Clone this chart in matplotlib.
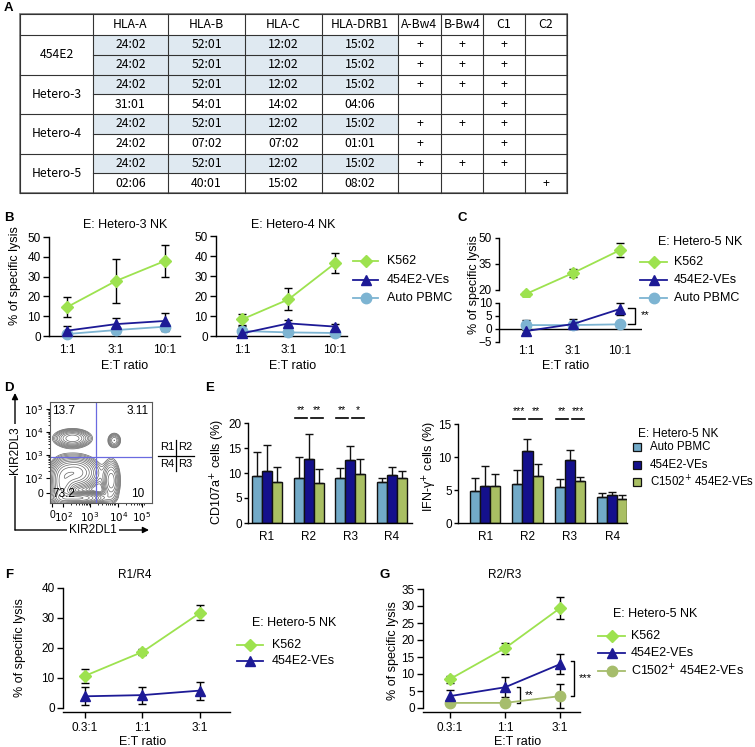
import numpy as np
import matplotlib
matplotlib.use('Agg')
import matplotlib.pyplot as plt
from matplotlib.patches import Rectangle

plt.rcParams['font.family'] = ['Liberation Sans', 'DejaVu Sans']
plt.rcParams['font.size'] = 8.5
plt.rcParams['axes.linewidth'] = 1.0

# ---------------- data ----------------
# A: HLA typing table
donors = ['454E2', 'Hetero-3', 'Hetero-4', 'Hetero-5']
table_cols = ['HLA-A', 'HLA-B', 'HLA-C', 'HLA-DRB1', 'A-Bw4', 'B-Bw4', 'C1', 'C2']
hla_a = ['24:02', '24:02', '24:02', '31:01', '24:02', '24:02', '24:02', '02:06']
hla_b = ['52:01', '52:01', '52:01', '54:01', '52:01', '07:02', '52:01', '40:01']
hla_c = ['12:02', '12:02', '12:02', '14:02', '12:02', '07:02', '12:02', '15:02']
hla_drb1 = ['15:02', '15:02', '15:02', '04:06', '15:02', '01:01', '15:02', '08:02']
a_bw4 = ['+', '+', '+', '', '+', '+', '+', '']
b_bw4 = ['+', '+', '+', '', '+', '', '+', '']
c1 = ['+', '+', '+', '+', '+', '+', '+', '']
c2 = ['', '', '', '', '', '', '', '+']
shared_allele = [True, True, True, False, True, False, True, False]

# B/C: specific lysis vs E:T ratio
et_ratio = ['1:1', '3:1', '10:1']
k562_h3 = [14.6, 27.8, 37.9]
k562_h3_err = [5.0, 11.0, 8.0]
ves_h3 = [2.7, 6.0, 7.6]
ves_h3_err = [2.2, 3.0, 3.8]
auto_h3 = [1.0, 3.0, 4.7]
auto_h3_err = [0.8, 1.5, 2.0]

k562_h4 = [8.3, 18.3, 36.3]
k562_h4_err = [2.8, 5.5, 5.0]
ves_h4 = [1.3, 6.3, 4.7]
ves_h4_err = [0.8, 1.8, 1.5]
auto_h4 = [2.5, 1.8, 1.5]
auto_h4_err = [2.5, 0.8, 0.6]

k562_h5 = [17.7, 29.8, 43.0]
k562_h5_err = [1.0, 2.5, 4.0]
ves_h5 = [-0.8, 1.9, 7.7]
ves_h5_err = [0.8, 2.0, 2.3]
auto_h5 = [1.5, 1.5, 1.8]
auto_h5_err = [2.0, 0.8, 0.6]

# D: flow populations (centre x, centre y, spread x, spread y, weight) in plot fraction
blob_x = [0.22, 0.63, 0.25, 0.12, 0.28, 0.60]
blob_y = [0.64, 0.62, 0.30, 0.16, 0.05, 0.22]
blob_sx = [0.09, 0.035, 0.11, 0.06, 0.13, 0.045]
blob_sy = [0.045, 0.04, 0.08, 0.12, 0.03, 0.11]
blob_w = [0.55, 0.25, 0.9, 0.7, 1.0, 0.4]
quad_pct = ['13.7', '3.11', '73.2', '10']

# E: degranulation / IFN-g
regions = ['R1', 'R2', 'R3', 'R4']
cd107_auto = [9.4, 9.0, 9.0, 8.2]
cd107_auto_err = [4.8, 4.2, 2.0, 0.8]
cd107_ves = [10.4, 12.8, 12.6, 9.6]
cd107_ves_err = [5.2, 5.0, 2.8, 1.6]
cd107_c1502 = [8.2, 8.0, 9.8, 9.0]
cd107_c1502_err = [3.0, 2.8, 3.0, 1.4]
cd107_sig = [(1, 0, '**'), (1, 1, '**'), (2, 0, '**'), (2, 1, '*')]

ifn_auto = [4.9, 5.9, 5.5, 4.0]
ifn_auto_err = [1.9, 2.1, 1.1, 0.5]
ifn_ves = [5.6, 10.9, 9.5, 4.3]
ifn_ves_err = [3.0, 1.9, 1.5, 0.4]
ifn_c1502 = [5.6, 7.1, 6.3, 3.6]
ifn_c1502_err = [1.9, 1.8, 0.6, 0.6]
ifn_sig = [(1, 0, '***'), (1, 1, '**'), (2, 0, '**'), (2, 1, '***')]

# F/G: sorted NK subsets
et_ratio2 = ['0.3:1', '1:1', '3:1']
k562_r14 = [10.7, 18.7, 31.7]
k562_r14_err = [2.3, 1.0, 2.5]
ves_r14 = [3.9, 4.3, 5.8]
ves_r14_err = [3.0, 2.8, 3.0]

k562_r23 = [8.5, 17.6, 29.4]
k562_r23_err = [1.0, 1.6, 3.2]
ves_r23 = [3.5, 6.1, 12.9]
ves_r23_err = [1.8, 3.0, 2.9]
c1502_r23 = [1.5, 1.5, 3.5]
c1502_r23_err = [0.4, 0.4, 3.5]

# styles
K562 = ('D', '#9de24f', 6)
VES = ('^', '#1d1a96', 7)
AUTO = ('o', '#7db4d2', 7.5)
C1502 = ('o', '#a6bd6c', 7.5)
bar_colors = ['#72aac8', '#14108c', '#a9bf63']

# ---------------- figure ----------------
W, H = 755, 747
fig = plt.figure(figsize=(W / 100, H / 100), dpi=100)


def box(x0, y0, x1, y1):
    return [x0 / W, 1 - y1 / H, (x1 - x0) / W, (y1 - y0) / H]


ov = fig.add_axes([0, 0, 1, 1])
ov.set_xlim(0, W)
ov.set_ylim(H, 0)
ov.axis('off')


def letter(x, y, s):
    ov.text(x, y, s, fontsize=9.5, fontweight='bold', ha='left', va='center')


def prism(ax, labels, xlim, ylim, yticks, xlen=0, xpad=6, ylen=4, ypad=2):
    ax.spines[['top', 'right']].set_visible(False)
    ax.set_xlim(xlim)
    ax.set_ylim(ylim)
    ax.set_yticks(yticks)
    ax.set_xticks(range(len(labels)), labels)
    ax.tick_params(axis='y', length=ylen, width=1, pad=ypad)
    ax.tick_params(axis='x', length=xlen, width=1, pad=xpad)
    ax.patch.set_alpha(0)


def series(ax, y, err, style, clip=False):
    m, c, ms = style
    x = np.arange(len(y))
    ax.errorbar(x, y, yerr=err, fmt='none', ecolor='k', elinewidth=1,
                capsize=3, capthick=1, zorder=3, clip_on=clip)
    ax.plot(x, y, color=c, marker=m, ms=ms, lw=1.3, mec=c, zorder=4, clip_on=clip)


def legend_rows(x0, x1, xt, ys, styles, labels, fs=9):
    for y, (m, c, ms), lab in zip(ys, styles, labels):
        ov.plot([x0, x1], [y, y], color=c, lw=1.3)
        ov.plot([(x0 + x1) / 2], [y], marker=m, color=c, ms=ms)
        ov.text(xt, y, lab, va='center', ha='left', fontsize=fs)


# ---- A: table ----
letter(4, 8, 'A')
col_edges = [20, 93, 168, 245, 322, 398, 441, 483, 525, 567]
row_edges = [14] + [35 + 19.75 * i for i in range(9)]
cell_cols = [hla_a, hla_b, hla_c, hla_drb1, a_bw4, b_bw4, c1, c2]
tfont = dict(family=['Noto Sans CJK JP', 'DejaVu Sans'], fontsize=8.8, ha='center', va='center')
for r in range(8):
    y0, y1 = row_edges[r + 1], row_edges[r + 2]
    for c, vals in enumerate(cell_cols):
        x0, x1 = col_edges[c + 1], col_edges[c + 2]
        if c < 4 and shared_allele[r]:
            ov.add_patch(Rectangle((x0, y0), x1 - x0, y1 - y0, fc='#dfe9f1', ec='none'))
        ov.text((x0 + x1) / 2, (y0 + y1) / 2, vals[r], **tfont)
for c, name in enumerate(table_cols):
    ov.text((col_edges[c + 1] + col_edges[c + 2]) / 2, (row_edges[0] + row_edges[1]) / 2, name, **tfont)
for i, d in enumerate(donors):
    ov.text((col_edges[0] + col_edges[1]) / 2, row_edges[1 + 2 * i] + 19.75, d, **tfont)
for i, y in enumerate(row_edges):
    xs = col_edges[0] if (i <= 1 or (i - 1) % 2 == 0) else col_edges[1]
    ov.plot([xs, col_edges[-1]], [y, y], color='#333333', lw=0.8)
for x in col_edges:
    ov.plot([x, x], [row_edges[0], row_edges[-1]], color='#333333', lw=0.8)
ov.add_patch(Rectangle((col_edges[0], row_edges[0]), col_edges[-1] - col_edges[0],
                       row_edges[-1] - row_edges[0], fc='none', ec='#808080', lw=1.3))

# ---- B ----
letter(4, 218, 'B')
axb1 = fig.add_axes(box(49, 237, 180, 336))
prism(axb1, et_ratio, (-0.37, 2.31), (0, 50), range(0, 51, 10))
series(axb1, auto_h3, auto_h3_err, AUTO)
series(axb1, ves_h3, ves_h3_err, VES)
series(axb1, k562_h3, k562_h3_err, K562)
axb2 = fig.add_axes(box(216, 236, 347, 336))
prism(axb2, et_ratio, (-0.56, 2.26), (0, 50), range(0, 51, 10))
series(axb2, auto_h4, auto_h4_err, AUTO)
series(axb2, ves_h4, ves_h4_err, VES)
series(axb2, k562_h4, k562_h4_err, K562)
ov.text(125, 225, 'E: Hetero-3 NK', ha='center', va='center', fontsize=9)
ov.text(293, 225, 'E: Hetero-4 NK', ha='center', va='center', fontsize=9)
ov.text(15, 276, '% of specific lysis', rotation=90, ha='center', va='center', fontsize=9)
ov.text(125, 366, 'E:T ratio', ha='center', va='center', fontsize=9)
ov.text(293, 366, 'E:T ratio', ha='center', va='center', fontsize=9)
legend_rows(353, 378, 387, [261, 280, 298], [K562, VES, AUTO], ['K562', '454E2-VEs', 'Auto PBMC'])

# ---- C (broken y axis) ----
letter(458, 218, 'C')
cxlim = (-0.574, 2.468)
axc_up = fig.add_axes(box(499, 236, 642, 297))
prism(axc_up, [], cxlim, (15.96, 51.15), [20, 35, 50], ylen=3)
axc_up.spines['bottom'].set_visible(False)
axc_up.spines['left'].set_bounds(20, 50)
axc_lo = fig.add_axes(box(499, 300, 642, 344))
prism(axc_lo, et_ratio, cxlim, (-5.77, 11.15), [-5, 0, 5, 10], xpad=1, ylen=3)
axc_lo.spines['bottom'].set_visible(False)
axc_lo.spines['left'].set_bounds(-5, 10)
axc_lo.axhline(0, color='k', lw=1, zorder=2)
for a in (axc_up, axc_lo):
    series(a, auto_h5, auto_h5_err, AUTO, clip=True)
    series(a, ves_h5, ves_h5_err, VES, clip=True)
    series(a, k562_h5, k562_h5_err, K562, clip=True)
axc_lo.plot([2.17, 2.32, 2.32, 2.17], [8.1, 8.1, 1.9, 1.9], color='k', lw=1, clip_on=False)
axc_lo.text(2.44, 5.5, '**', ha='left', va='center', fontsize=8)
ov.text(474, 285, '% of specific lysis', rotation=90, ha='center', va='center', fontsize=9)
ov.text(566, 366, 'E:T ratio', ha='center', va='center', fontsize=9)
ov.text(658, 242, 'E: Hetero-5 NK', ha='left', va='center', fontsize=9)
legend_rows(640, 667, 674, [262, 280, 298], [K562, VES, AUTO], ['K562', '454E2-VEs', 'Auto PBMC'])

# ---- D: flow contour ----
letter(4, 388, 'D')
axd = fig.add_axes(box(50, 402, 152, 503))
gx, gy = np.meshgrid(np.linspace(0, 1, 300), np.linspace(0, 1, 300))
dens = np.zeros_like(gx)
for bx, by, sx, sy, w in zip(blob_x, blob_y, blob_sx, blob_sy, blob_w):
    dens += w * np.exp(-0.5 * ((gx - bx) / sx) ** 2 - 0.5 * ((gy - by) / sy) ** 2)
axd.contour(gx, gy, dens, levels=np.geomspace(0.05, 0.95, 12), colors='0.4', linewidths=0.5)
axd.axvline(0.45, color='#6a6ae0', lw=0.9)
axd.axhline(0.455, color='#6a6ae0', lw=0.9)
axd.set_xlim(0, 1)
axd.set_ylim(0, 1)
for s in axd.spines.values():
    s.set_color('0.35')
    s.set_linewidth(0.8)
axd.set_xticks([0.02, 0.13, 0.39, 0.67, 0.9], ['0', '$10^2$', '$10^3$', '$10^4$', '$10^5$'])
axd.set_yticks([0.1, 0.247, 0.475, 0.70, 0.93], ['0', '$10^2$', '$10^3$', '$10^4$', '$10^5$'])
decade_x = [0.13, 0.39, 0.67]
decade_y = [0.247, 0.475, 0.70]
mx = [d + 0.26 * np.log10(k) for d in decade_x for k in range(2, 10)]
my = [d + 0.227 * np.log10(k) for d in decade_y for k in range(2, 10)]
axd.set_xticks(mx, minor=True)
axd.set_yticks(my, minor=True)
axd.tick_params(which='major', length=3, width=0.8, labelsize=7.5, pad=2)
axd.tick_params(which='minor', length=1.5, width=0.6)
axd.text(0.02, 0.97, quad_pct[0], transform=axd.transAxes, ha='left', va='top', fontsize=8.5)
axd.text(0.97, 0.97, quad_pct[1], transform=axd.transAxes, ha='right', va='top', fontsize=8.5)
axd.text(0.02, 0.03, quad_pct[2], transform=axd.transAxes, ha='left', va='bottom', fontsize=8.5)
axd.text(0.92, 0.03, quad_pct[3], transform=axd.transAxes, ha='right', va='bottom', fontsize=8.5)
ov.annotate('', xy=(15, 393), xytext=(15, 530),
            arrowprops=dict(arrowstyle='-|>', lw=1, color='k', shrinkA=0, shrinkB=0, mutation_scale=9))
ov.annotate('', xy=(149, 530), xytext=(15, 530),
            arrowprops=dict(arrowstyle='-|>', lw=1, color='k', shrinkA=0, shrinkB=0, mutation_scale=9))
ov.text(15, 450, 'KIR2DL3', rotation=90, ha='center', va='center', fontsize=8.5,
        bbox=dict(fc='white', ec='none', pad=1.5))
ov.text(93, 530, 'KIR2DL1', ha='center', va='center', fontsize=8.5,
        bbox=dict(fc='white', ec='none', pad=1.5))
for (tx, ty, s) in [(167, 447, 'R1'), (185, 447, 'R2'), (167, 464, 'R4'), (185, 464, 'R3')]:
    ov.text(tx, ty, s, ha='center', va='center', fontsize=8)
ov.plot([176, 176], [440, 471], color='k', lw=0.9)
ov.plot([158, 194], [456, 456], color='k', lw=0.9)

# ---- E: bars ----
letter(205, 388, 'E')
bw = 0.24


def bar_panel(ax, vals, errs, sig, line_y, text_y):
    pos = np.arange(len(regions))
    for k, (v, e, col) in enumerate(zip(vals, errs, bar_colors)):
        ax.bar(pos + (k - 1) * bw, v, bw, color=col, edgecolor='#111111', lw=1,
               yerr=[np.zeros(len(e)), e], capsize=3,
               error_kw=dict(elinewidth=1, capthick=1, ecolor='#111111'), zorder=2)
    for g, side, stars in sig:
        xa = g - 1.4 * bw if side == 0 else g + 0.2 * bw
        ax.plot([xa, xa + 1.2 * bw], [line_y, line_y], color='k', lw=1.2, clip_on=False)
        ax.text(xa + 0.6 * bw, text_y, stars, ha='center', va='center', fontsize=7.5)


axe1 = fig.add_axes(box(248, 423, 412, 523))
prism(axe1, regions, (-0.456, 3.48), (0, 20), range(0, 21, 5), ylen=3, ypad=1.5)
bar_panel(axe1, [cd107_auto, cd107_ves, cd107_c1502],
          [cd107_auto_err, cd107_ves_err, cd107_c1502_err], cd107_sig, 21.0, 22.6)
axe2 = fig.add_axes(box(458, 424, 627, 523))
prism(axe2, regions, (-0.64, 3.35), (0, 15), range(0, 16, 5), ylen=3, ypad=1.5)
bar_panel(axe2, [ifn_auto, ifn_ves, ifn_c1502],
          [ifn_auto_err, ifn_ves_err, ifn_c1502_err], ifn_sig, 15.76, 17.0)
ov.text(218, 472, 'CD107a$^{+}$ cells (%)', rotation=90, ha='center', va='center', fontsize=9)
ov.text(430, 467, 'IFN-γ$^{+}$ cells (%)', rotation=90, ha='center', va='center', fontsize=9)
ov.text(638, 434, 'E: Hetero-5 NK', ha='left', va='center', fontsize=8.6)
for y, col, lab in zip([447, 465, 482], bar_colors, ['Auto PBMC', '454E2-VEs', 'C1502$^{+}$ 454E2-VEs']):
    ov.add_patch(Rectangle((633, y - 4), 8, 8, fc=col, ec='#111111', lw=0.9))
    ov.text(650, y, lab, ha='left', va='center', fontsize=8.3)

# ---- F ----
letter(5, 575, 'F')
axf = fig.add_axes(box(63, 588, 230, 708))
prism(axf, et_ratio2, (-0.38, 2.52), (0, 40), range(0, 41, 10), xlen=4, xpad=3)
axf.spines['bottom'].set_position(('outward', 3))
series(axf, ves_r14, ves_r14_err, VES)
series(axf, k562_r14, k562_r14_err, K562)
ov.text(135, 575, 'R1/R4', ha='center', va='center', fontsize=8.5)
ov.text(20, 648, '% of specific lysis', rotation=90, ha='center', va='center', fontsize=9)
ov.text(143, 742, 'E:T ratio', ha='center', va='center', fontsize=9)
ov.text(252, 623, 'E: Hetero-5 NK', ha='left', va='center', fontsize=9)
legend_rows(237, 263, 272, [645, 661], [K562, VES], ['K562', '454E2-VEs'])

# ---- G ----
letter(380, 575, 'G')
axg = fig.add_axes(box(423, 589, 580, 708))
prism(axg, et_ratio2, (-0.49, 2.36), (0, 35), range(0, 36, 5), xlen=4, xpad=3)
axg.spines['bottom'].set_position(('outward', 3))
series(axg, c1502_r23, c1502_r23_err, C1502)
series(axg, ves_r23, ves_r23_err, VES)
series(axg, k562_r23, k562_r23_err, K562)
axg.plot([1.22, 1.27, 1.27, 1.22], [6.2, 6.2, 1.5, 1.5], color='k', lw=1, clip_on=False)
axg.text(1.35, 3.8, '**', ha='left', va='center', fontsize=8)
axg.plot([2.2, 2.255, 2.255, 2.2], [13.8, 13.8, 3.5, 3.5], color='k', lw=1, clip_on=False)
axg.text(2.33, 8.8, '***', ha='left', va='center', fontsize=8)
ov.text(505, 575, 'R2/R3', ha='center', va='center', fontsize=8.5)
ov.text(393, 651, '% of specific lysis', rotation=90, ha='center', va='center', fontsize=9)
ov.text(518, 742, 'E:T ratio', ha='center', va='center', fontsize=9)
ov.text(613, 614, 'E: Hetero-5 NK', ha='left', va='center', fontsize=9)
legend_rows(598, 625, 631, [636, 653, 671], [K562, VES, C1502],
            ['K562', '454E2-VEs', 'C1502$^{+}$ 454E2-VEs'])

fig.savefig('out.png', dpi=100)
